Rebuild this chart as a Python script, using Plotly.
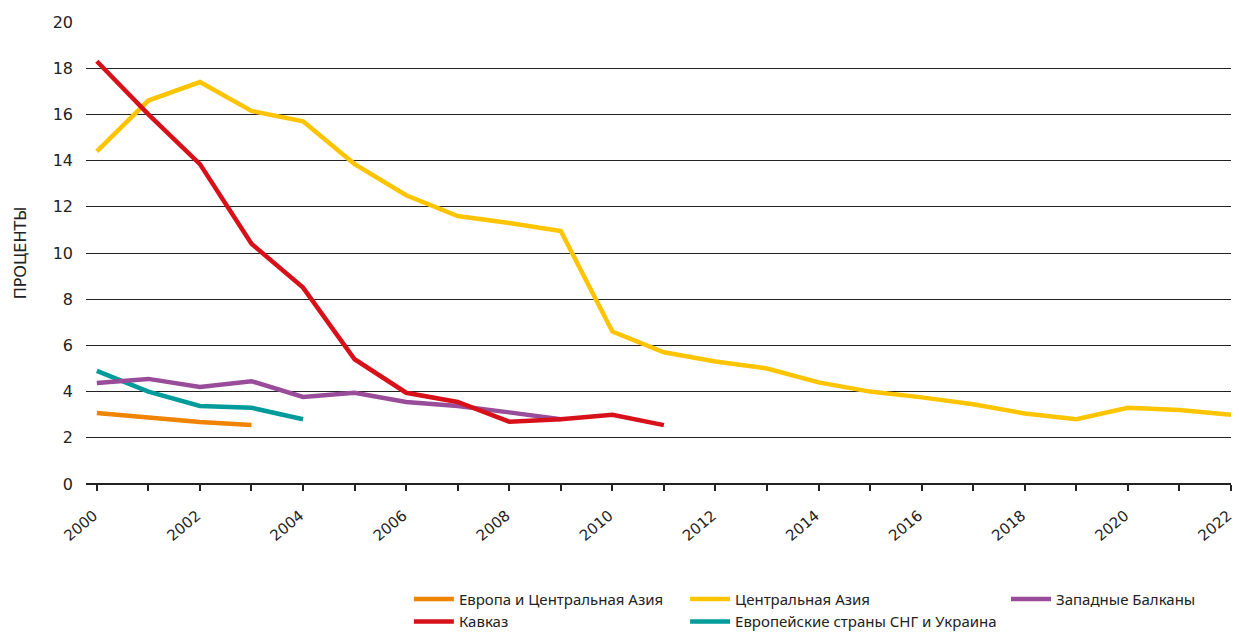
import plotly.graph_objects as go

years_eca = [2000, 2001, 2002, 2003]
eca = [3.07, 2.88, 2.68, 2.55]

years_cau = list(range(2000, 2012))
caucasus = [18.3, 16.0, 13.85, 10.4, 8.5, 5.4, 3.95, 3.55, 2.7, 2.8, 3.0, 2.55]

years_ca = list(range(2000, 2023))
central_asia = [14.4, 16.6, 17.4, 16.15, 15.7, 13.85, 12.5, 11.6, 11.3, 10.95, 6.6, 5.7,
                5.3, 5.0, 4.4, 4.0, 3.75, 3.45, 3.05, 2.8, 3.3, 3.2, 3.0]

years_wb = list(range(2000, 2010))
balkans = [4.37, 4.55, 4.2, 4.45, 3.77, 3.95, 3.55, 3.38, 3.1, 2.8]

years_cis = [2000, 2001, 2002, 2003, 2004]
cis = [4.9, 4.0, 3.38, 3.3, 2.8]

names = ["Европа и Центральная Азия", "Кавказ", "Центральная Азия",
         "Европейские страны СНГ и Украина", "Западные Балканы"]
colors = ["#F08300", "#D7101A", "#FFC400", "#009B9A", "#994C99"]
legend_ids = ["legend", "legend", "legend2", "legend2", "legend3"]

xtick_vals = list(range(2000, 2023, 2))
ytick_vals = list(range(0, 21, 2))

series = [(years_eca, eca), (years_cau, caucasus), (years_ca, central_asia),
          (years_cis, cis), (years_wb, balkans)]

fig = go.Figure()
draw_order = [2, 0, 3, 4, 1]
for i in draw_order:
    xs, ys = series[i]
    fig.add_trace(go.Scatter(x=xs, y=ys, mode="lines", name=names[i],
                             line=dict(color=colors[i], width=4.5),
                             legend=legend_ids[i], legendrank=i))

font_family = "Noto Sans"
leg_common = dict(orientation="v", bgcolor="rgba(0,0,0,0)",
                  font=dict(family=font_family, size=15, color="#222"),
                  xanchor="left", yanchor="top", tracegroupgap=0, itemwidth=40)

tick_font = dict(family="DejaVu Sans", size=16, color="#222")

fig.update_layout(
    width=1239, height=633,
    margin=dict(l=86, r=8, t=22, b=149, autoexpand=False),
    paper_bgcolor="white", plot_bgcolor="white",
    font=dict(family="DejaVu Sans", size=16, color="#222"),
    showlegend=True,
    legend=dict(x=0.282, y=-0.214, **leg_common),
    legend2=dict(x=0.5232, y=-0.214, **leg_common),
    legend3=dict(x=0.8035, y=-0.214, **leg_common),
    xaxis=dict(range=[1999.79, 2022], tickvals=xtick_vals, ticktext=[str(v) for v in xtick_vals],
               tickangle=-40, ticks="outside", ticklen=6, tickcolor="#222", tickwidth=1.5,
               ticklabelshift=-3, ticklabelstandoff=10, ticklabeloverflow="allow",
               minor=dict(dtick=1, tick0=2000, ticks="outside", ticklen=6, tickcolor="#222", tickwidth=1.5),
               showgrid=False, showline=False, zeroline=False, automargin=False,
               tickfont=dict(family="DejaVu Sans", size=15, color="#222")),
    yaxis=dict(range=[0, 20], tickvals=ytick_vals, showgrid=True, gridcolor="#222", gridwidth=1,
               zeroline=True, zerolinecolor="#222", zerolinewidth=2,
               ticks="", ticklabelstandoff=12, automargin=False,
               tickfont=tick_font,
               title=dict(text="ПРОЦЕНТЫ", font=dict(family="DejaVu Sans", size=16), standoff=22)),
)

fig.write_html("out.html", config={"displayModeBar": False},
               post_script="document.body.style.margin='0';")
